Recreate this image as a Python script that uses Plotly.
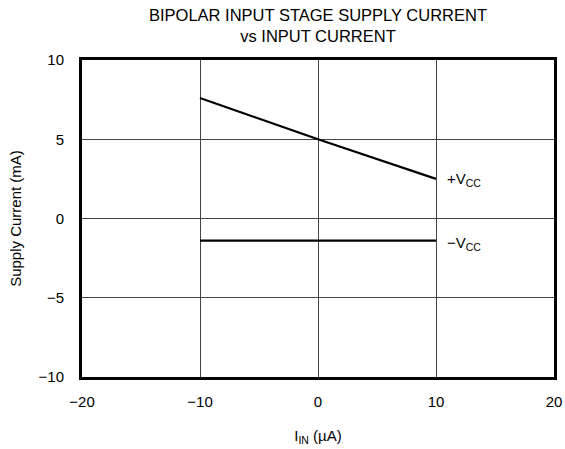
import plotly.graph_objects as go

# Data
iin = [-10, 0, 10]
pos_vcc = [7.6, 5.0, 2.5]
neg_vcc = [-1.4, -1.4, -1.4]
x_ticks = [-20, -10, 0, 10, 20]
y_ticks = [-10, -5, 0, 5, 10]
tick_text_x = ["\u221220", "\u221210", "0", "10", "20"]
tick_text_y = ["\u221210", "\u22125", "0", "5", "10"]

FAM = "Liberation Sans, Arial, sans-serif"
font = dict(family=FAM, size=15, color="black")
afont = dict(family=FAM, size=15, color="black")

fig = go.Figure()
fig.add_trace(go.Scatter(x=iin, y=pos_vcc, mode="lines",
                         line=dict(color="black", width=2.2), showlegend=False))
fig.add_trace(go.Scatter(x=iin, y=neg_vcc, mode="lines",
                         line=dict(color="black", width=2.2), showlegend=False))

fig.add_annotation(x=10.8, y=pos_vcc[-1] - 0.05, text="+V<sub>CC</sub>", showarrow=False,
                   xanchor="left", yanchor="middle", font=afont)
fig.add_annotation(x=10.8, y=neg_vcc[-1] - 0.2, text="\u2212V<sub>CC</sub>", showarrow=False,
                   xanchor="left", yanchor="middle", font=afont)

# title as annotation, centred over x = 0
fig.add_annotation(x=0, xref="x", y=1, yref="paper", yanchor="bottom", yshift=13,
                   text="BIPOLAR INPUT STAGE SUPPLY CURRENT<br>vs INPUT CURRENT",
                   showarrow=False, font=dict(family=FAM, size=16.5, color="black"))

fig.update_layout(
    width=565, height=449,
    margin=dict(l=82, r=11, t=60, b=72),
    paper_bgcolor="white", plot_bgcolor="white",
    font=font,
    xaxis=dict(range=[-20, 20], tickvals=x_ticks, ticktext=tick_text_x, automargin=False,
               showgrid=True, gridcolor="#444", gridwidth=1, zeroline=False,
               showline=True, linecolor="black", linewidth=3, mirror=True,
               ticks="outside", ticklen=9, tickcolor="rgba(0,0,0,0)",
               title=dict(text="I<sub>IN</sub> (\u00b5A)", standoff=22, font=afont)),
    yaxis=dict(range=[-10, 10], tickvals=y_ticks, ticktext=tick_text_y, automargin=False,
               showgrid=True, gridcolor="#444", gridwidth=1, zeroline=False,
               showline=True, linecolor="black", linewidth=3, mirror=True,
               ticks="outside", ticklen=12, tickcolor="rgba(0,0,0,0)",
               title=dict(text="Supply Current (mA)", standoff=14, font=afont)),
)

# remove the default page margin so the figure fills the window exactly
fig.write_html("out.html", config={"displayModeBar": False},
               post_script="document.body.style.margin='0';")
